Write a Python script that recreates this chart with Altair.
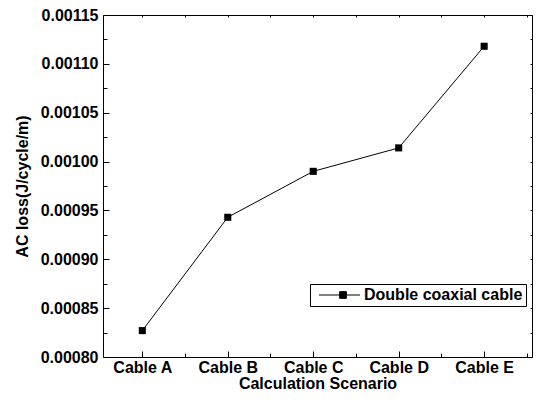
import altair as alt
import pandas as pd

categories = ["Cable A", "Cable B", "Cable C", "Cable D", "Cable E"]
ac_loss = [0.000827, 0.000943, 0.000990, 0.001014, 0.001118]
series_name = "Double coaxial cable"
y_major = [0.00080, 0.00085, 0.00090, 0.00095, 0.00100, 0.00105, 0.00110, 0.00115]
y_all = [round(0.00080 + i * 0.000025, 6) for i in range(15)]
x_all = [i * 0.5 for i in range(10)]

df = pd.DataFrame({
    "idx": list(range(len(categories))),
    "cat": categories,
    "value": ac_loss,
    "series": series_name,
})

W, H = 429, 342
FONT = "Liberation Sans"
label_expr = "[" + ",".join("'" + c + "'" for c in categories) + "][round(datum.value)]"

xscale = alt.Scale(domain=[-0.46, 4.56], nice=False, zero=False)
yscale = alt.Scale(domain=[0.00080, 0.00115], nice=False, zero=False)

base = alt.Chart(df)

x_main = alt.X("idx:Q", scale=xscale, title="Calculation Scenario",
               axis=alt.Axis(values=list(range(len(categories))), labelExpr=label_expr,
                             ticks=False, labelPadding=2, grid=False, domainColor="black",
                             domainWidth=1, labelFont=FONT, labelFontSize=16, labelFontWeight="bold",
                             labelColor="black", titleFont=FONT, titleFontSize=16,
                             titleFontWeight="bold", titleColor="black", titlePadding=0,
                             labelFlush=False))
y_main = alt.Y("value:Q", scale=yscale, title="AC loss(J/cycle/m)",
               axis=alt.Axis(values=y_major, labelExpr="format(datum.value, '.5f')",
                             ticks=False, labelPadding=5, grid=False, domainColor="black",
                             domainWidth=1, labelFont=FONT, labelFontSize=16, labelFontWeight="bold",
                             labelColor="black", titleFont=FONT, titleFontSize=16,
                             titleFontWeight="bold", titleColor="black", titlePadding=10,
                             labelFlush=False))

line = base.mark_line(color="black", strokeWidth=1).encode(x=x_main, y=y_main)

points = base.mark_point(shape="square", filled=True, size=50, opacity=1).encode(
    x=alt.X("idx:Q", scale=xscale, axis=None),
    y=alt.Y("value:Q", scale=yscale, axis=None),
    color=alt.Color("series:N", scale=alt.Scale(range=["black"]),
                    legend=alt.Legend(title=None, orient="none", legendX=207, legendY=269,
                                      symbolType="M-0.5,0H9.75M4.66,-0.84H6.34V0.84H4.66Z",
                                      symbolSize=64, symbolFillColor="black",
                                      symbolStrokeColor="black", symbolStrokeWidth=1,
                                      labelOffset=35, labelFont=FONT, labelFontSize=16,
                                      labelFontWeight="bold", labelColor="black",
                                      padding=3, strokeColor="black", fillColor="white",
                                      labelLimit=300)),
)

x_cond = "datum.value == round(datum.value)"
y_cond = "round(datum.value * 200000) % 10 == 0"

ticks_in = base.mark_line(opacity=0).encode(
    x=alt.X("idx:Q", scale=xscale,
            axis=alt.Axis(orient="top", offset=-H, values=x_all, labels=False, domain=False,
                          grid=False, title=None, tickColor="black", tickWidth=1,
                          tickSize={"condition": {"test": x_cond, "value": 6}, "value": 4})),
    y=alt.Y("value:Q", scale=yscale,
            axis=alt.Axis(orient="right", offset=-W, values=y_all, labels=False, domain=False,
                          grid=False, title=None, tickColor="black", tickWidth=1,
                          tickSize={"condition": {"test": y_cond, "value": 6}, "value": 4})),
)

frame = base.mark_line(opacity=0).encode(
    x=alt.X("idx:Q", scale=xscale,
            axis=alt.Axis(orient="bottom", offset=-H, values=x_all, labels=False, domain=True,
                          domainColor="black", domainWidth=1, grid=False, title=None,
                          tickColor="black", tickWidth=1, tickSize=2)),
    y=alt.Y("value:Q", scale=yscale,
            axis=alt.Axis(orient="left", offset=-W, values=y_all, labels=False, domain=True,
                          domainColor="black", domainWidth=1, grid=False, title=None,
                          tickColor="black", tickWidth=1, tickSize=2)),
)

chart = alt.layer(line, points, ticks_in, frame).resolve_axis(
    x="independent", y="independent"
).properties(
    width=W, height=H,
    autosize=alt.AutoSizeParams(type="none"),
    padding={"left": 95, "top": 7, "right": 5, "bottom": 37},
).configure_view(stroke=None).configure(background="white")

chart.save("out.html", embed_options={"renderer": "svg", "actions": False})
